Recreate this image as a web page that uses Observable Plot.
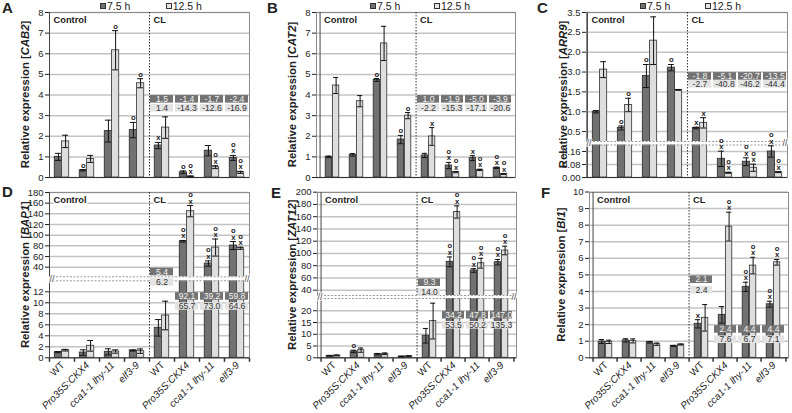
<!DOCTYPE html>
<html><head><meta charset="utf-8">
<script src="https://cdn.jsdelivr.net/npm/d3@7"></script>
<script src="https://cdn.jsdelivr.net/npm/@observablehq/plot@0.6"></script>
<style>
body{margin:0;background:#fff;}
#fig{position:relative;width:792px;height:413px;overflow:hidden;font-family:"Liberation Sans",Arial,Helvetica,sans-serif;color:#222;}
.panel{position:absolute;}
.letter{position:absolute;font-weight:bold;font-size:15px;line-height:15px;}
.sq{position:absolute;width:6px;height:6px;box-sizing:border-box;border:1px solid #333;}
.lt{position:absolute;font-size:10.5px;line-height:12px;white-space:nowrap;}
</style></head><body><div id="fig"></div><script>
// ---------- shared categories ----------
const keys = ["c0","c1","c2","c3","l0","l1","l2","l3"];
const groupNames = ["WT","Pro35S:CKX4","cca1-1 lhy-11","elf3-9"];
const sectionNames = ["Control","CL"];
const seriesNames = ["7.5 h","12.5 h"];

// ---------- A: CAB2 ----------
const cab2_75 = [1.0, 0.35, 2.25, 2.3, 1.55, 0.25, 1.3, 0.95];
const cab2_75_err = [0.17, 0.03, 0.53, 0.37, 0.15, 0.07, 0.25, 0.12];
const cab2_75_sig = ["", "o", "", "o", "x", "o", "", "xo"];
const cab2_125 = [1.75, 0.9, 6.17, 4.57, 2.42, 0.05, 0.5, 0.25];
const cab2_125_err = [0.3, 0.17, 0.95, 0.22, 0.52, 0.02, 0.07, 0.05];
const cab2_125_sig = ["", "", "o", "o", "", "xo", "xo", "xo"];
const cab2_fold75 = ["1.5", "-1.4", "-1.7", "-2.4"];
const cab2_fold125 = ["1.4", "-14.3", "-12.6", "-16.9"];
const cab2_ticks = [0,1,2,3,4,5,6,7,8];
const cab2_tickLabels = ["0","1","2","3","4","5","6","7","8"];

// ---------- B: CAT2 ----------
const cat2_75 = [1.0, 1.1, 4.73, 1.84, 1.07, 0.58, 0.94, 0.47];
const cat2_75_err = [0.04, 0.06, 0.07, 0.2, 0.1, 0.15, 0.12, 0.03];
const cat2_75_sig = ["", "", "o", "o", "", "xo", "x", "xo"];
const cat2_125 = [4.46, 3.7, 6.5, 3.0, 1.99, 0.26, 0.37, 0.17];
const cat2_125_err = [0.39, 0.27, 0.83, 0.15, 0.43, 0.03, 0.03, 0.02];
const cat2_125_sig = ["", "", "", "o", "x", "xo", "xo", "xo"];
const cat2_fold75 = ["1.0", "-1.9", "-5.0", "-3.9"];
const cat2_fold125 = ["-2.2", "-15.3", "-17.1", "-20.6"];
const cat2_ticks = [0,1,2,3,4,5,6,7,8];
const cat2_tickLabels = ["0","1","2","3","4","5","6","7","8"];

// ---------- C: ARR9 ----------
const arr9_75 = [1.0, 0.59, 1.9, 2.11, 0.59, 0.115, 0.097, 0.16];
const arr9_75_err = [0.03, 0.05, 0.29, 0.08, 0.02, 0.047, 0.024, 0.035];
const arr9_75_sig = ["", "o", "o", "o", "x", "xo", "xo", "xo"];
const arr9_125 = [2.06, 1.17, 2.79, 1.55, 0.72, 0.029, 0.06, 0.033];
const arr9_125_err = [0.2, 0.17, 0.6, 0.01, 0.13, 0.003, 0.022, 0.003];
const arr9_125_sig = ["", "o", "", "", "x", "xo", "xo", "xo"];
const arr9_fold75 = ["-1.8", "-5.1", "-20.7", "-13.5"];
const arr9_fold125 = ["-2.7", "-40.8", "-46.2", "-44.4"];
const arr9_ticks = [0, 0.08, 0.16, 0.5, 1, 1.5, 2, 2.5, 3, 3.5];
const arr9_tickLabels = ["0.00","0.08","0.16","0.5","1.0","1.5","3.0","2.0","2.5","3.5"];

// ---------- D: BAP1 ----------
const bap1_75 = [1.02, 0.96, 1.08, 1.33, 5.45, 88.6, 46.9, 80.6];
const bap1_75_err = [0.1, 0.5, 0.55, 0.1, 1.5, 1.5, 5, 7.5];
const bap1_75_sig = ["", "", "", "", "", "xo", "xo", "xo"];
const bap1_125 = [1.38, 2.18, 1.14, 1.21, 7.69, 145, 76.8, 75.5];
const bap1_125_err = [0.15, 0.97, 0.3, 0.4, 2.6, 10.5, 16, 2];
const bap1_125_sig = ["", "", "", "", "", "xo", "xo", "xo"];
const bap1_fold75 = ["5.4", "92.1", "39.2", "59.8"];
const bap1_fold125 = ["6.2", "65.7", "73.0", "64.6"];
const bap1_ticks = [0,2,4,6,8,10,12,40,60,80,100,120,140,160,180];
const bap1_tickLabels = ["0","2","4","6","8","10","12","40","60","80","100","120","140","160","180"];

// ---------- E: ZAT12 ----------
const zat12_75 = [0.85, 2.7, 1.55, 0.55, 9.36, 86.3, 72.2, 85.7];
const zat12_75_err = [0.1, 0.5, 0.3, 0.1, 3.1, 8, 3, 4.5];
const zat12_75_sig = ["", "o", "", "", "", "xo", "xo", "xo"];
const zat12_125 = [1.0, 3.25, 1.7, 0.7, 15.6, 167.7, 84, 104.8];
const zat12_125_err = [0.15, 0.9, 0.35, 0.1, 7.6, 10, 8, 7];
const zat12_125_sig = ["", "", "", "", "", "xo", "xo", "xo"];
const zat12_fold75 = ["9.3", "34.2", "47.8", "147.0"];
const zat12_fold125 = ["14.0", "53.5", "50.2", "135.3"];
const zat12_ticks = [0,5,10,15,20,40,60,80,100,120,140,160,180,200];
const zat12_tickLabels = ["0","5","10","15","20","40","60","80","100","120","140","160","180","200"];

// ---------- F: BI1 ----------
const bi1_75 = [0.98, 1.05, 0.94, 0.72, 2.05, 2.59, 4.28, 3.23];
const bi1_75_err = [0.12, 0.1, 0.05, 0.03, 0.25, 0.5, 0.28, 0.18];
const bi1_75_sig = ["", "", "", "", "x", "", "xo", "xo"];
const bi1_125 = [0.96, 1.02, 0.82, 0.8, 2.41, 7.91, 5.56, 5.76];
const bi1_125_err = [0.1, 0.12, 0.07, 0.03, 0.8, 0.87, 0.5, 0.17];
const bi1_125_sig = ["", "", "", "", "", "xo", "xo", "xo"];
const bi1_fold75 = ["2.1", "2.4", "4.4", "4.4"];
const bi1_fold125 = ["2.4", "7.6", "6.7", "7.1"];
const bi1_ticks = [0,1,2,3,4,5,6,7,8,9,10];
const bi1_tickLabels = ["0","1","2","3","4","5","6","7","8","9","10"];

// ---------- layout ----------
const fig = document.getElementById("fig");
const FF = '"Liberation Sans", Arial, Helvetica, sans-serif';
const tickSym = {draw(ctx) { ctx.moveTo(0, 0); ctx.lineTo(0, 4); }};

function makePanel(p) {
  const fw = p.width - p.mL - p.mR, bw = fw / keys.length, half = bw / 2;
  const barW = 7.2, eo = barW / 2, cap = 3;
  const rows = (v, e, s) => keys.map((k, i) => ({k, v: v[i], e: e[i], s: s[i], lo: v[i] - e[i], hi: v[i] + e[i]}));
  const r75 = rows(p.v75, p.e75, p.s75), r125 = rows(p.v125, p.e125, p.s125);
  const ann = [0,1,2,3].map(i => ({k: keys[4 + i], d: p.f75[i], l: p.f125[i], yd: p.rowDark[i], yl: p.rowLight[i]}));
  const labMap = new Map(p.ticks.map((t, i) => [t, p.tickLabels[i]]));
  const sigText = s => s.split("").reverse().join("\n");
  const marks = [
    Plot.ruleY(p.ticks, {stroke: "#c4c4c4", strokeWidth: 1.5}),
    Plot.frame({stroke: "#8c8c8c"}),
    Plot.barY(r75, {x: "k", y1: 0, y2: "v", fill: "#717171", stroke: "#333", strokeWidth: 0.9, insetLeft: half - barW, insetRight: half}),
    Plot.barY(r125, {x: "k", y1: 0, y2: "v", fill: "#dedede", stroke: "#444", strokeWidth: 0.9, insetLeft: half, insetRight: half - barW}),
    Plot.ruleX([keys[4]], {x: d => d, dx: -half, stroke: "#333", strokeDasharray: "1.5,1.5"}),
    Plot.ruleX([keys[0]], {x: d => d, dx: -half, stroke: "#444"}),
    Plot.ruleY([0], {stroke: "#333"})
  ];
  if (p.brk) {
    marks.push(
      Plot.barY([p.brk], {y1: "lo", y2: "hi", fill: "white", insetLeft: -3, insetRight: -3}),
      Plot.ruleY([p.brk.lo, p.brk.hi], {stroke: "#9a9a9a", strokeDasharray: "2,1.5"})
    );
  }
  marks.push(
    Plot.ruleX(r75, {x: "k", y1: "lo", y2: "hi", dx: -eo, stroke: "#111"}),
    Plot.ruleX(r125, {x: "k", y1: "lo", y2: "hi", dx: eo, stroke: "#111"}),
    Plot.tickY(r75, {x: "k", y: "hi", insetLeft: half - eo - cap, insetRight: half + eo - cap, stroke: "#111"}),
    Plot.tickY(r75, {x: "k", y: "lo", insetLeft: half - eo - cap, insetRight: half + eo - cap, stroke: "#111"}),
    Plot.tickY(r125, {x: "k", y: "hi", insetLeft: half + eo - cap, insetRight: half - eo - cap, stroke: "#111"}),
    Plot.tickY(r125, {x: "k", y: "lo", insetLeft: half + eo - cap, insetRight: half - eo - cap, stroke: "#111"}),
    Plot.barY(ann, {x: "k", y1: "yd", y2: "yd", insetTop: -3.8, insetBottom: -3.8, insetLeft: 1, insetRight: 1, fill: "#737373"}),
    Plot.barY(ann, {x: "k", y1: "yl", y2: "yl", insetTop: -3.8, insetBottom: -3.8, insetLeft: 1, insetRight: 1, fill: "#e3e3e3"}),
    Plot.text(ann, {x: "k", y: "yd", text: "d", fill: "#f2f2f2", fontSize: 8.6}),
    Plot.text(ann, {x: "k", y: "yl", text: "l", fill: "#333", fontSize: 8.6}),
    Plot.text(r75.filter(d => d.s), {x: "k", y: "hi", text: d => sigText(d.s), dx: -eo, dy: -2, lineAnchor: "bottom", lineHeight: 0.85, fontSize: 7.6, fontWeight: "bold", fill: "#222"}),
    Plot.text(r125.filter(d => d.s), {x: "k", y: "hi", text: d => sigText(d.s), dx: eo, dy: -2, lineAnchor: "bottom", lineHeight: 0.85, fontSize: 7.6, fontWeight: "bold", fill: "#222"}),
    Plot.text([{k: keys[0], t: sectionNames[0]}, {k: keys[4], t: sectionNames[1]}], {x: "k", text: "t", frameAnchor: "top", dx: -half + 4, dy: 4, textAnchor: "start", lineAnchor: "top", fontWeight: "bold", fontSize: 9.3, fill: "#222", stroke: "white", strokeWidth: 3, paintOrder: "stroke"})
  );
  if (p.brk) {
    const mid = [(p.brk.lo + p.brk.hi) / 2];
    marks.push(
      Plot.text(mid, {y: d => d, frameAnchor: "left", text: () => "//", fontSize: 9, fill: "#444", stroke: "white", strokeWidth: 1.5, paintOrder: "stroke"}),
      Plot.text(mid, {y: d => d, frameAnchor: "right", text: () => "//", fontSize: 9, fill: "#444", stroke: "white", strokeWidth: 1.5, paintOrder: "stroke"})
    );
  }
  if (p.xlabels) {
    const xl = keys.map((k, i) => ({k, n: groupNames[i % 4]}));
    marks.push(
      Plot.text(xl.filter(d => d.n === "WT"), {x: "k", text: "n", frameAnchor: "bottom", rotate: -45, textAnchor: "end", dx: 3, dy: 8, fontSize: 10, fill: "#222"}),
      Plot.text(xl.filter(d => d.n !== "WT"), {x: "k", text: "n", frameAnchor: "bottom", rotate: -45, textAnchor: "end", dx: 3, dy: 8, fontSize: 10, fontStyle: "italic", fill: "#222"}),
      Plot.dot(keys, {x: d => d, frameAnchor: "bottom", dx: -half, symbol: tickSym, stroke: "#333", fill: "none"}),
      Plot.dot([keys[7]], {x: d => d, frameAnchor: "bottom", dx: half, symbol: tickSym, stroke: "#333", fill: "none"})
    );
  }
  const svg = Plot.plot({
    width: p.width, height: p.height,
    marginLeft: p.mL, marginRight: p.mR, marginTop: p.mT, marginBottom: p.mB,
    style: {fontFamily: FF, fontSize: "9.5px", background: "transparent", overflow: "visible", color: "#222"},
    x: {type: "band", domain: keys, padding: 0, axis: null},
    y: {type: "linear", domain: p.domain, range: p.range, ticks: p.ticks, tickFormat: d => labMap.get(d), tickSize: 4, tickPadding: 2, label: null},
    marks
  });
  const t = d3.select(svg).append("text")
    .attr("transform", `translate(${p.titleX},${(p.mT + p.height - p.mB) / 2}) rotate(-90)`)
    .attr("text-anchor", "middle").attr("dy", "0.35em")
    .attr("font-weight", "bold").attr("font-size", 11.3).attr("fill", "#222").attr("font-family", FF);
  t.append("tspan").text("Relative expression [");
  t.append("tspan").attr("font-style", "italic").text(p.gene);
  t.append("tspan").text("]");
  const div = document.createElement("div");
  div.className = "panel";
  div.style.left = p.left + "px"; div.style.top = p.top + "px";
  div.appendChild(svg);
  fig.appendChild(div);
}

const topRow = {top: 0, width: 264, height: 190, mT: 12, mB: 13};
const botRow = {top: 180, width: 264, height: 233, mT: 12, mB: 55.7, xlabels: true};

makePanel({...topRow, left: 0, mL: 49, mR: 15, titleX: 25, gene: "CAB2",
  domain: [0, 8], range: [177, 12], ticks: cab2_ticks, tickLabels: cab2_tickLabels,
  v75: cab2_75, e75: cab2_75_err, s75: cab2_75_sig, v125: cab2_125, e125: cab2_125_err, s125: cab2_125_sig,
  f75: cab2_fold75, f125: cab2_fold125, rowDark: [3.79,3.79,3.79,3.79], rowLight: [3.36,3.36,3.36,3.36]});
makePanel({...topRow, left: 264, mL: 52, mR: 13, titleX: 28, gene: "CAT2",
  domain: [0, 8], range: [177, 12], ticks: cat2_ticks, tickLabels: cat2_tickLabels,
  v75: cat2_75, e75: cat2_75_err, s75: cat2_75_sig, v125: cat2_125, e125: cat2_125_err, s125: cat2_125_sig,
  f75: cat2_fold75, f125: cat2_fold125, rowDark: [3.79,3.79,3.79,3.79], rowLight: [3.36,3.36,3.36,3.36]});
makePanel({...topRow, left: 528, mL: 58, mR: 5, titleX: 34.7, gene: "ARR9",
  domain: [0, 0.2, 0.25, 3.5], range: [177, 144.5, 141, 12], brk: {lo: 0.2, hi: 0.25},
  ticks: arr9_ticks, tickLabels: arr9_tickLabels,
  v75: arr9_75, e75: arr9_75_err, s75: arr9_75_sig, v125: arr9_125, e125: arr9_125_err, s125: arr9_125_sig,
  f75: arr9_fold75, f125: arr9_fold125, rowDark: [1.89,1.89,1.89,1.89], rowLight: [1.69,1.69,1.69,1.69]});
makePanel({...botRow, left: 0, mL: 49, mR: 15, titleX: 25, gene: "BAP1",
  domain: [0, 14, 22, 180], range: [177.3, 100.3, 96.3, 12], brk: {lo: 14, hi: 22},
  ticks: bap1_ticks, tickLabels: bap1_tickLabels,
  v75: bap1_75, e75: bap1_75_err, s75: bap1_75_sig, v125: bap1_125, e125: bap1_125_err, s125: bap1_125_sig,
  f75: bap1_fold75, f125: bap1_fold125, rowDark: [31, 11.15, 11.15, 11.15], rowLight: [13.7, 9.33, 9.33, 9.33]});
makePanel({...botRow, left: 264, mL: 53, mR: 12, titleX: 28, gene: "ZAT12",
  domain: [0, 25.2, 31.3, 200], range: [177.3, 118, 115, 11.7], brk: {lo: 25.2, hi: 31.3},
  ticks: zat12_ticks, tickLabels: zat12_tickLabels,
  v75: zat12_75, e75: zat12_75_err, s75: zat12_75_sig, v125: zat12_125, e125: zat12_125_err, s125: zat12_125_sig,
  f75: zat12_fold75, f125: zat12_fold125, rowDark: [52.2, 18.1, 18.1, 18.1], rowLight: [36.2, 13.8, 13.8, 13.8]});
makePanel({...botRow, left: 528, mL: 61, mR: 4, titleX: 33.3, gene: "BI1",
  domain: [0, 10], range: [177.3, 11.5], ticks: bi1_ticks, tickLabels: bi1_tickLabels,
  v75: bi1_75, e75: bi1_75_err, s75: bi1_75_sig, v125: bi1_125, e125: bi1_125_err, s125: bi1_125_sig,
  f75: bi1_fold75, f125: bi1_fold125, rowDark: [4.71, 1.71, 1.71, 1.71], rowLight: [4.08, 1.09, 1.09, 1.09]});

// ---------- panel letters and legends ----------
const letters = [["A",2,0],["B",267,0],["C",537,0],["D",2,184],["E",271,185],["F",541,185]];
for (const [t, x, y] of letters) {
  const s = document.createElement("div"); s.className = "letter";
  s.style.left = x + "px"; s.style.top = y + "px"; s.textContent = t; fig.appendChild(s);
}
const legendX = [[100, 165.7], [370, 434], [640, 705]];
const swFill = ["#717171", "#e6e6e6"];
for (const xs of legendX) {
  xs.forEach((x, i) => {
    const q = document.createElement("div"); q.className = "sq";
    q.style.left = x + "px"; q.style.top = "3px"; q.style.background = swFill[i]; fig.appendChild(q);
    const l = document.createElement("div"); l.className = "lt";
    l.style.left = (x + 7) + "px"; l.style.top = "0px"; l.textContent = seriesNames[i]; fig.appendChild(l);
  });
}
</script></body></html>
